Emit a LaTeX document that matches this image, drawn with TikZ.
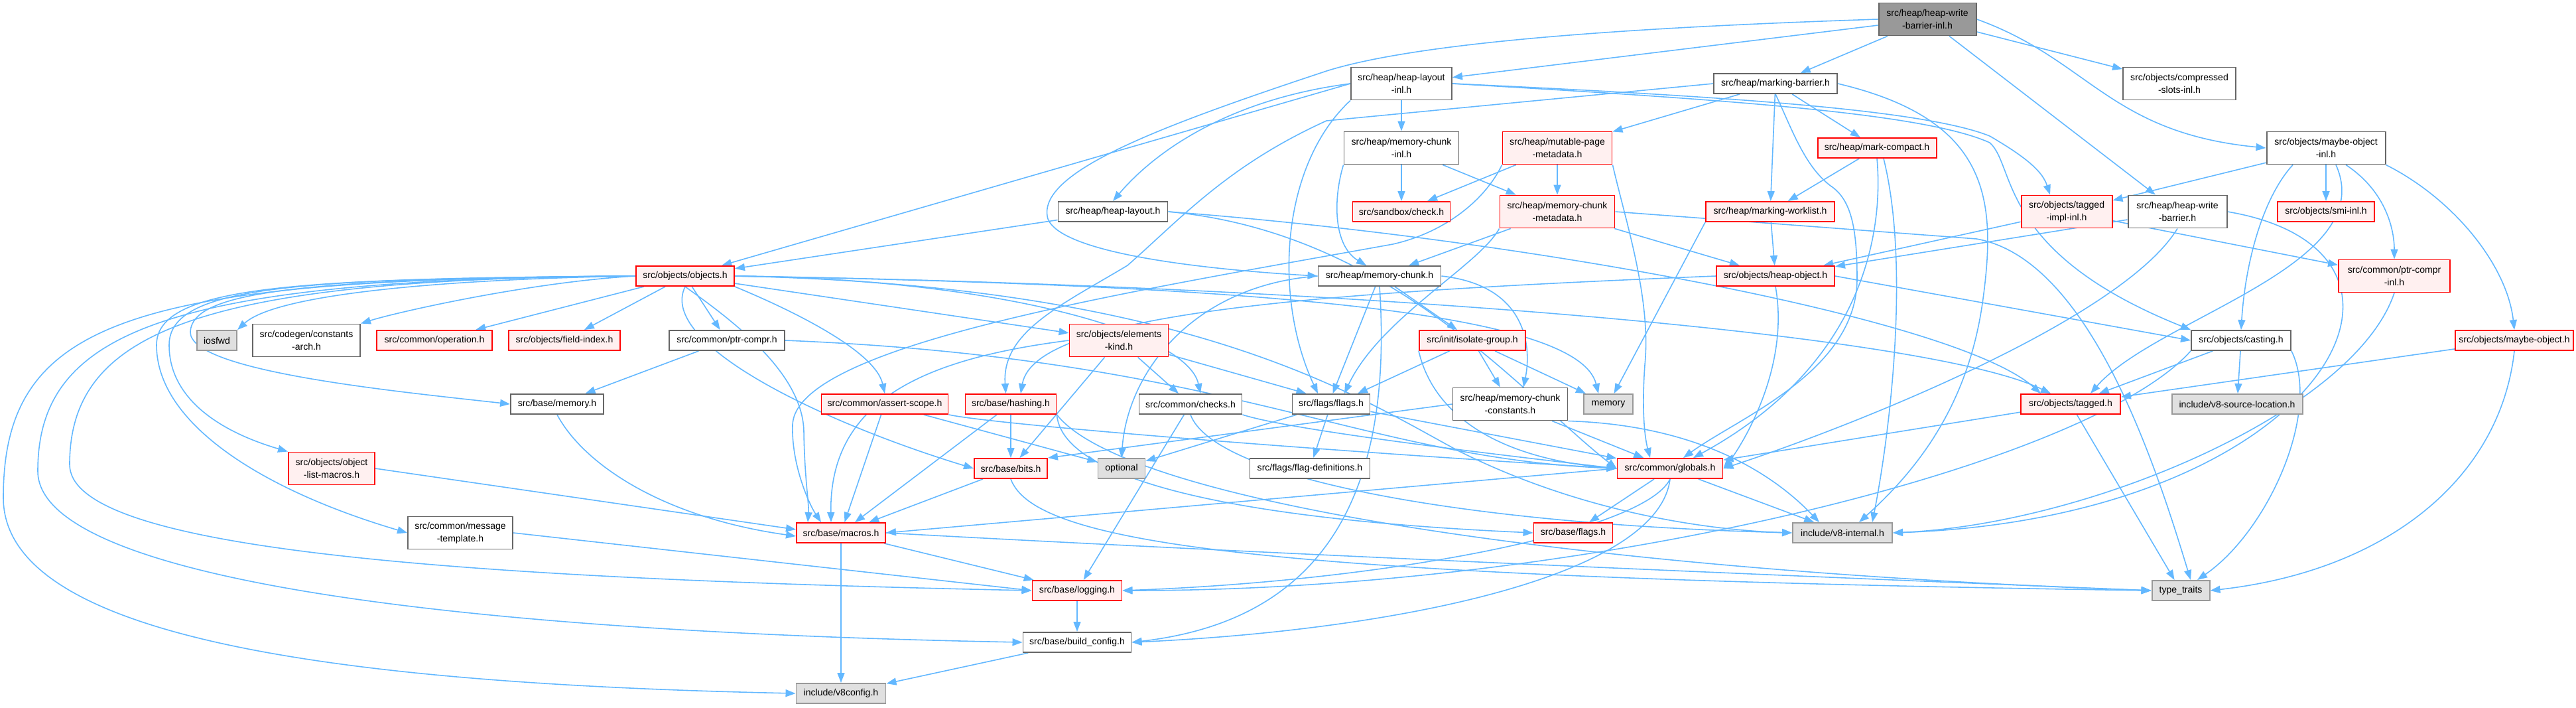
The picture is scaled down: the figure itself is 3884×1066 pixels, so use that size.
\documentclass[tikz,border=0pt]{standalone}
\usepackage{fontspec}
\setmainfont{Liberation Sans}
\usetikzlibrary{arrows.meta}
\pgfdeclarelayer{bg}
\pgfsetlayers{bg,main}
\definecolor{edgec}{HTML}{63B8FF}
\definecolor{nodegray}{HTML}{666666}
\definecolor{nodered}{HTML}{FF0000}
\definecolor{nodepink}{HTML}{FFF0F0}
\definecolor{extgray}{HTML}{999999}
\definecolor{extfill}{HTML}{E0E0E0}
\definecolor{rootfill}{HTML}{999999}
\begin{document}
\begin{tikzpicture}[x=0.02cm,y=-0.02cm,
  sz/.style 2 args={minimum width={#1*0.02cm}, minimum height={#2*0.02cm}},
  basebox/.style={rectangle, inner sep=0pt, align=center, line width=1.1pt,
    font=\fontsize{8}{10.8}\selectfont, text=black},
  wn/.style={basebox, draw=nodegray, fill=white},
  rn/.style={basebox, draw=nodered, fill=nodepink},
  gn/.style={basebox, draw=extgray, fill=extfill},
  rootn/.style={basebox, draw=nodegray, fill=rootfill},
  e/.style={draw=edgec, line width=0.9pt, -{Triangle[length=0.3cm,width=0.22cm]}}]
\begin{pgfonlayer}{bg}
\fill[white] (0,0) rectangle (3884,1066);
\end{pgfonlayer}
\useasboundingbox (0,0) rectangle (3884,1066);

% nodes
\node[rootn,sz={147}{49}] (hwbi) at (2906,29) {src/heap/heap-write\\-barrier-inl.h};
\node[wn,sz={152}{49}] (hli) at (2113,126) {src/heap/heap-layout\\-inl.h};
\node[wn,sz={186}{30}] (mb) at (2677,126) {src/heap/marking-barrier.h};
\node[wn,sz={170}{49}] (csi) at (3286,126) {src/objects/compressed\\-slots-inl.h};
\node[wn,sz={173}{49}] (mci) at (2113,223) {src/heap/memory-chunk\\-inl.h};
\node[rn,sz={165}{49}] (mpm) at (2348,223) {src/heap/mutable-page\\-metadata.h};
\node[rn,sz={179}{30}] (mcomp) at (2830,223) {src/heap/mark-compact.h};
\node[wn,sz={179}{49}] (moi) at (3507,223) {src/objects/maybe-object\\-inl.h};
\node[wn,sz={165}{30}] (hl) at (1678,319) {src/heap/heap-layout.h};
\node[rn,sz={147}{30}] (chk) at (2113,319) {src/sandbox/check.h};
\node[rn,sz={173}{49}] (mcm) at (2348,319) {src/heap/memory-chunk\\-metadata.h};
\node[rn,sz={194}{30}] (mw) at (2669,319) {src/heap/marking-worklist.h};
\node[rn,sz={137}{49}] (tii) at (3116,319) {src/objects/tagged\\-impl-inl.h};
\node[wn,sz={149}{49}] (hwb) at (3283,319) {src/heap/heap-write\\-barrier.h};
\node[rn,sz={146}{30}] (smi) at (3507,319) {src/objects/smi-inl.h};
\node[rn,sz={148}{30}] (obj) at (1033,416) {src/objects/objects.h};
\node[wn,sz={185}{30}] (mc) at (2080,416) {src/heap/memory-chunk.h};
\node[rn,sz={178}{30}] (ho) at (2677,416) {src/objects/heap-object.h};
\node[rn,sz={168}{49}] (pci) at (3610,416) {src/common/ptr-compr\\-inl.h};
\node[gn,sz={60}{30}] (iosfwd) at (327,513) {iosfwd};
\node[wn,sz={162}{49}] (ca) at (462,513) {src/codegen/constants\\-arch.h};
\node[rn,sz={174}{30}] (op) at (655,513) {src/common/operation.h};
\node[rn,sz={168}{30}] (fi) at (851,513) {src/objects/field-index.h};
\node[wn,sz={174}{30}] (pc) at (1096,513) {src/common/ptr-compr.h};
\node[rn,sz={149}{49}] (ek) at (1687,513) {src/objects/elements\\-kind.h};
\node[rn,sz={160}{30}] (ig) at (2220,513) {src/init/isolate-group.h};
\node[wn,sz={150}{30}] (cast) at (3379,513) {src/objects/casting.h};
\node[rn,sz={178}{30}] (mo) at (3791,513) {src/objects/maybe-object.h};
\node[wn,sz={140}{30}] (mem) at (840,609) {src/base/memory.h};
\node[rn,sz={191}{30}] (as) at (1334,609) {src/common/assert-scope.h};
\node[rn,sz={137}{30}] (hash) at (1524,609) {src/base/hashing.h};
\node[wn,sz={155}{30}] (chks) at (1795,609) {src/common/checks.h};
\node[wn,sz={117}{30}] (ff) at (2007,609) {src/flags/flags.h};
\node[wn,sz={173}{49}] (mcc) at (2277,609) {src/heap/memory-chunk\\-constants.h};
\node[gn,sz={74}{30}] (memory) at (2425,609) {memory};
\node[rn,sz={150}{30}] (tagged) at (3122,609) {src/objects/tagged.h};
\node[gn,sz={197}{30}] (v8sl) at (3373,609) {include/v8-source-location.h};
\node[rn,sz={130}{49}] (olm) at (500,706) {src/objects/object\\-list-macros.h};
\node[rn,sz={110}{30}] (bits) at (1524,706) {src/base/bits.h};
\node[gn,sz={71}{30}] (opt) at (1691,706) {optional};
\node[wn,sz={181}{30}] (fd) at (1975,706) {src/flags/flag-definitions.h};
\node[rn,sz={159}{30}] (glob) at (2518,706) {src/common/globals.h};
\node[rn,sz={134}{30}] (macros) at (1268,803) {src/base/macros.h};
\node[wn,sz={158}{49}] (mt) at (694,803) {src/common/message\\-template.h};
\node[rn,sz={119}{30}] (bflags) at (2372,803) {src/base/flags.h};
\node[gn,sz={150}{30}] (v8i) at (2778,803) {include/v8-internal.h};
\node[rn,sz={135}{30}] (log) at (1624,890) {src/base/logging.h};
\node[gn,sz={87}{30}] (tt) at (3288,890) {type\_traits};
\node[wn,sz={163}{30}] (bc) at (1624,968) {src/base/build\_config.h};
\node[gn,sz={135}{30}] (v8c) at (1268,1045) {include/v8config.h};

\begin{pgfonlayer}{bg}
% root
\draw[e] (hwbi) -- (hli);
\draw[e] (hwbi) -- (mb);
\draw[e] (hwbi) -- (csi);
\draw[e] (hwbi.east) .. controls (3150,90) and (3180,200) .. (moi.west);
\draw[e] (hwbi) -- (hwb);
\draw[e] (hwbi.west) .. controls (2500,40) and (2150,60) .. (2000,107) .. controls (1750,190) and (1560,260) .. (1580,330) .. controls (1600,380) and (1800,405) .. (mc.west);
% heap-layout-inl
\draw[e] (hli.west) .. controls (1850,150) and (1740,230) .. (hl.north);
\draw[e] (hli) -- (mci);
\draw[e] (hli.west) -- (obj);
\draw[e] (hli.south west) .. controls (1930,250) and (1920,450) .. ([xshift=-0.4cm]ff.north);
\draw[e] (hli.east) .. controls (2600,145) and (2900,165) .. (3000,205) .. controls (3060,240) and (3080,260) .. ([xshift=-0.5cm]tii.north);
\draw[e] (hli.east) .. controls (2600,150) and (2900,170) .. (3000,215) .. controls (3040,250) and (3010,380) .. (cast.north west);
% marking-barrier
\draw[e] (mb) -- (mpm);
\draw[e] (mb) -- (mcomp);
\draw[e] (mb) -- (mw);
\draw[e] (mb.west) -- (2000,182) .. controls (1850,250) and (1780,330) .. (1700,400) .. controls (1600,460) and (1510,500) .. ([xshift=-0.15cm]hash.north);
\draw[e] (mb.south) .. controls (2700,190) and (2720,250) .. (2760,280) .. controls (2790,300) and (2800,340) .. (2800,420) .. controls (2800,560) and (2620,630) .. ([xshift=0.4cm]glob.north);
\draw[e] (mb.east) .. controls (3000,180) and (3010,300) .. (2990,450) .. controls (2970,600) and (2900,700) .. ([xshift=0.5cm]v8i.north);
% mark-compact
\draw[e] (mcomp) -- (mw);
\draw[e] (mcomp.south) .. controls (2840,350) and (2810,550) .. ([xshift=0.7cm]glob.north);
\draw[e] ([xshift=0.2cm]mcomp.south) .. controls (2880,400) and (2850,650) .. ([xshift=0.9cm]v8i.north);
% memory-chunk-inl
\draw[e] (mci.south west) .. controls (2010,300) and (2010,370) .. ([xshift=-0.4cm]mc.north);
\draw[e] (mci) -- (mcm);
\draw[e] (mci) -- (chk);
% mutable-page-metadata
\draw[e] (mpm) -- (chk);
\draw[e] (mpm) -- (mcm);
\draw[e] (mpm.south west) .. controls (2240,300) and (2180,350) .. (2100,368) .. controls (1700,440) and (1200,520) .. (1195,640) .. controls (1193,700) and (1220,760) .. ([xshift=-0.6cm]macros.north);
\draw[e] (mpm.south east) .. controls (2450,330) and (2490,450) .. (2480,550) .. controls (2475,620) and (2480,660) .. ([xshift=-0.6cm]glob.north);
% memory-chunk-metadata
\draw[e] (mcm) -- (mc);
\draw[e] (mcm) -- (ho);
\draw[e] (mcm.south west) .. controls (2230,400) and (2080,480) .. ([xshift=0.4cm]ff.north);
\draw[e] (mcm.east) -- (2980,360) .. controls (3150,390) and (3250,700) .. ([xshift=0.3cm]tt.north);
% marking-worklist
\draw[e] (mw) -- (ho);
\draw[e] (mw.south west) -- (memory);
% heap-layout
\draw[e] (hl) -- (obj);
\draw[e] (hl.east) .. controls (2100,350) and (2300,600) .. (glob.west);
\draw[e] (hl.east) .. controls (2300,360) and (2950,480) .. ([xshift=-0.9cm]tagged.north);
% tagged-impl-inl / heap-write-barrier
\draw[e] (tii) -- (ho);
\draw[e] (tii) -- (pci);
\draw[e] (hwb) -- (ho);
\draw[e] (hwb.south) .. controls (3200,480) and (2800,640) .. (glob.east);
\draw[e] (hwb.east) .. controls (3720,380) and (3500,780) .. (v8i.east);
% maybe-object-inl
\draw[e] (moi) -- (tii);
\draw[e] (moi) -- (smi);
\draw[e] ([xshift=-1cm]moi.south) .. controls (3410,300) and (3385,400) .. (cast.north);
\draw[e] ([xshift=0.6cm]moi.south) .. controls (3600,290) and (3610,350) .. (pci.north);
\draw[e] (moi.south east) .. controls (3700,300) and (3780,400) .. (mo.north);
\draw[e] ([xshift=0.3cm]moi.south) .. controls (3590,400) and (3250,480) .. ([xshift=0.6cm]tagged.north);
% objects.h
\draw[e] (obj.west) .. controls (700,420) and (420,440) .. (iosfwd.north east);
\draw[e] (obj.west) .. controls (800,425) and (600,470) .. (ca.north east);
\draw[e] (obj) -- (op);
\draw[e] (obj) -- (fi);
\draw[e] (obj) -- (pc);
\draw[e] (obj) -- (ek);
\draw[e] (obj.south east) .. controls (1200,470) and (1320,530) .. (as.north);
\draw[e] (obj.south) .. controls (990,520) and (1250,640) .. (bits.west);
\draw[e] (obj.west) .. controls (450,420) and (255,430) .. (255,520) .. controls (255,600) and (330,650) .. (olm.north west);
\draw[e] (obj.west) .. controls (450,420) and (290,440) .. (287,500) .. controls (285,560) and (600,590) .. (mem.west);
\draw[e] (obj.west) .. controls (450,420) and (236,430) .. (236,520) .. controls (236,640) and (400,740) .. (mt.west);
\draw[e] (obj.west) .. controls (300,420) and (105,500) .. (105,700) .. controls (105,820) and (600,870) .. (log.west);
\draw[e] (obj.west) .. controls (250,420) and (57,500) .. (57,710) .. controls (57,860) and (600,950) .. (bc.west);
\draw[e] (obj.west) .. controls (200,420) and (5,480) .. (5,750) .. controls (5,960) and (500,1030) .. (v8c.west);
\draw[e] (obj.south) .. controls (1100,480) and (1210,560) .. (1212,650) .. controls (1213,720) and (1220,760) .. ([xshift=-1.0cm]macros.north);
\draw[e] (obj.east) .. controls (1500,420) and (1790,500) .. ([xshift=0.3cm]chks.north);
\draw[e] (obj.east) .. controls (1900,430) and (2380,470) .. ([xshift=-0.3cm]memory.north);
\draw[e] (obj.east) .. controls (1800,430) and (2050,600) .. (2200,680) .. controls (2400,780) and (2600,800) .. (v8i.west);
\draw[e] (obj.east) .. controls (2000,430) and (2900,500) .. ([xshift=-0.6cm]tagged.north);
% memory-chunk
\draw[e] (mc) -- (ig);
\draw[e] (mc) -- ([xshift=0.05cm]ff.north);
\draw[e] (mc.east) .. controls (2300,430) and (2310,520) .. ([xshift=0.4cm]mcc.north);
\draw[e] (mc.south) .. controls (2105,800) and (1950,940) .. (bc.east);
\draw[e] (mc.west) .. controls (1800,430) and (1700,560) .. (opt.north);
% heap-object
\draw[e] (ho.west) .. controls (2000,440) and (1560,470) .. ([xshift=0.3cm]hash.north);
\draw[e] (ho.south) .. controls (2700,560) and (2620,680) .. (glob.east);
\draw[e] (ho.east) -- (cast.west);
% isolate-group
\draw[e] (ig) -- ([xshift=0.8cm]ff.north);
\draw[e] (ig.south west) .. controls (2160,620) and (2250,690) .. (glob.west);
\draw[e] (ig) -- (mcc);
\draw[e] (ig) -- (memory);
% memory-chunk-constants
\draw[e] (mcc) -- (glob);
\draw[e] (mcc.south east) .. controls (2540,640) and (2660,700) .. ([xshift=-0.7cm]v8i.north);
\draw[e] (mcc.west) -- (bits.north east);
% flags
\draw[e] (ff) -- (fd);
\draw[e] (ff) -- (opt);
\draw[e] (ff) -- (glob);
% checks
\draw[e] (chks) -- (log);
\draw[e] (chks.south east) .. controls (1950,650) and (2300,690) .. (glob.west);
\draw[e] (chks.south) .. controls (1830,720) and (2200,790) .. (v8i.west);
% hashing
\draw[e] (hash) -- (bits);
\draw[e] (hash) -- (macros);
\draw[e] (hash.south east) .. controls (1600,710) and (1800,780) .. (bflags.west);
\draw[e] (hash.south east) .. controls (1700,760) and (2400,860) .. (tt.west);
% assert-scope
\draw[e] (as) -- (macros);
\draw[e] (as) -- (opt);
\draw[e] (as.south east) .. controls (1500,640) and (2000,680) .. (glob.west);
% bits
\draw[e] (bits) -- (macros);
\draw[e] (bits.south) .. controls (1560,820) and (1900,870) .. (tt.west);
% elements-kind
\draw[e] (ek) -- (bits);
\draw[e] (ek) -- (chks);
\draw[e] (ek) -- ([xshift=-0.75cm]ff.north);
\draw[e] (ek.west) .. controls (1400,540) and (1250,600) .. ([xshift=-0.3cm]macros.north);
% ptr-compr
\draw[e] (pc) -- (mem);
\draw[e] (pc.east) .. controls (1850,540) and (2050,690) .. (glob.west);
% memory.h / object-list-macros / message-template
\draw[e] (mem.south) .. controls (880,700) and (1000,780) .. ([yshift=-0.1cm]macros.west);
\draw[e] (olm.east) -- ([yshift=0.1cm]macros.west);
\draw[e] (mt.east) -- (log.west);
% macros
\draw[e] (macros) -- (log);
\draw[e] (macros) -- (v8c);
\draw[e] (macros.east) .. controls (2000,840) and (3000,880) .. (tt.west);
% logging, build_config
\draw[e] (log) -- (bc);
\draw[e] (bc) -- (v8c);
% globals
\draw[e] (glob.west) -- (macros.east);
\draw[e] (glob.south) .. controls (2480,800) and (2100,875) .. (log.east);
\draw[e] (glob.south) .. controls (2500,870) and (2100,950) .. (bc.east);
\draw[e] (glob) -- (bflags);
\draw[e] (glob) -- (v8i);
% casting
\draw[e] (cast) -- (tagged);
\draw[e] (cast) -- (v8sl);
\draw[e] (cast.south east) .. controls (3500,620) and (3420,800) .. ([xshift=0.5cm]tt.north);
\draw[e] (cast.south west) .. controls (3150,700) and (2400,890) .. (log.east);
% tagged
\draw[e] (tagged) -- (glob);
\draw[e] (tagged) -- (tt);
% maybe-object
\draw[e] (mo) -- (tagged);
\draw[e] (mo.south) .. controls (3770,720) and (3600,860) .. (tt.east);
% ptr-compr-inl
\draw[e] (pci.south) .. controls (3550,620) and (3150,790) .. (v8i.east);
\end{pgfonlayer}
\end{tikzpicture}
\end{document}
